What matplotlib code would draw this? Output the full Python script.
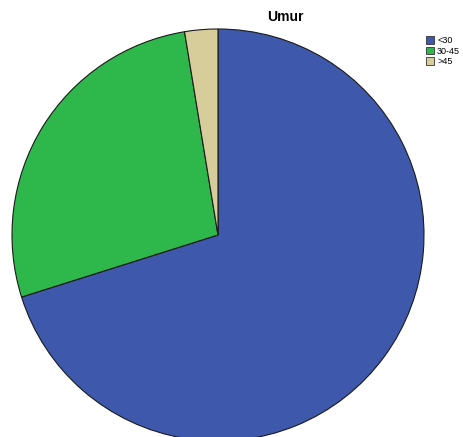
import matplotlib.pyplot as plt

categories = ["<30", "30-45", ">45"]
counts = [54, 21, 2]
colors = ["#3e58ac", "#2eb84b", "#d6cd9b"]

W, H = 463, 437
fig = plt.figure(figsize=(W / 100, H / 100), dpi=100)

ax = fig.add_axes([12 / W, -4 / H, 412 / W, 412 / H])
wedges, _ = ax.pie(
    counts,
    colors=colors,
    startangle=90,
    counterclock=False,
    radius=1.0,
    wedgeprops=dict(edgecolor="#1a1a1a", linewidth=0.8),
)
ax.set_xlim(-1, 1)
ax.set_ylim(-1, 1)
ax.set_aspect("equal")

fig.text(285 / W, 1 - 17 / H, "Umur", ha="center", va="center",
         fontsize=10, fontweight="bold", family="Liberation Sans")

leg = fig.legend(
    wedges, categories,
    loc="upper left", bbox_to_anchor=(420 / W, 1 - 30 / H),
    frameon=False, fontsize=6.5, handlelength=0.9, handleheight=0.9,
    handletextpad=0.3, labelspacing=0.15, borderpad=0.2,
    prop={"family": "Liberation Sans", "size": 6.5},
)
for h in leg.legend_handles:
    h.set_edgecolor("#333333")
    h.set_linewidth(0.6)

fig.savefig("out.png", dpi=100)
